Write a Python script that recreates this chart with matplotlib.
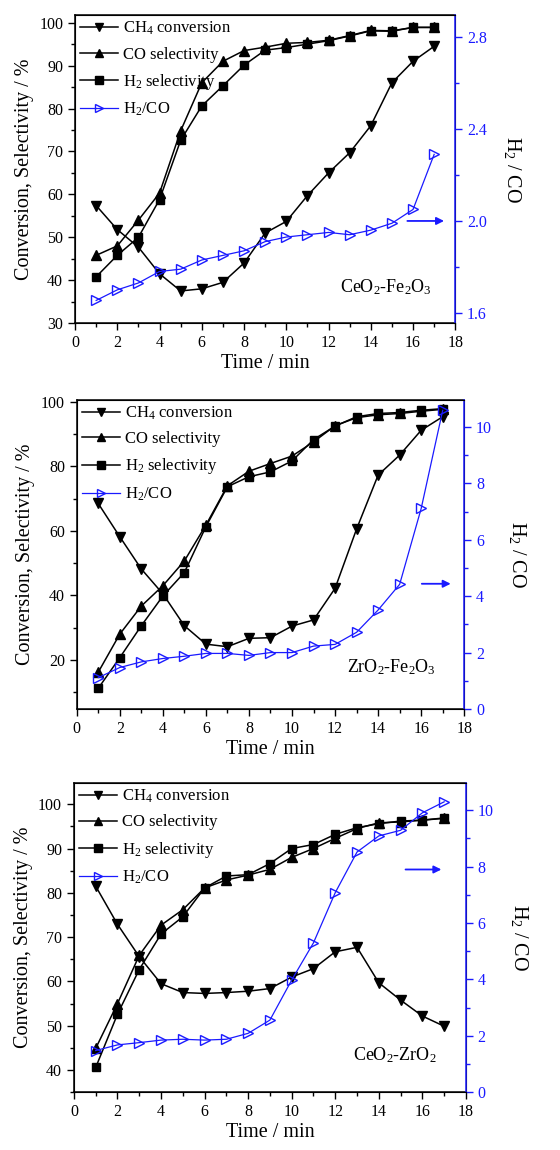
import matplotlib
matplotlib.use("Agg")
import matplotlib.pyplot as plt
from matplotlib.ticker import MultipleLocator

plt.rcParams['font.family'] = ['Liberation Serif', 'DejaVu Serif']
plt.rcParams['mathtext.fontset'] = 'custom'
plt.rcParams['mathtext.rm'] = 'Liberation Serif'
plt.rcParams['mathtext.it'] = 'Liberation Serif:italic'

time = list(range(1, 18))

# CeO2-Fe2O3
ch4_a = [57.4, 51.8, 47.7, 41.5, 37.5, 38.0, 39.5, 44.0, 51.0, 53.7, 59.7, 65.0, 69.7, 76.0, 86.0, 91.0, 94.5]
co_a = [45.8, 48.0, 54.0, 60.3, 74.8, 86.0, 91.0, 93.5, 94.3, 95.2, 95.4, 95.9, 97.0, 98.2, 98.1, 98.9, 98.9]
h2_a = [40.8, 45.8, 50.0, 58.8, 72.6, 80.6, 85.3, 90.1, 93.6, 94.2, 95.0, 95.8, 96.9, 98.1, 98.0, 98.9, 98.9]
ratio_a = [1.654, 1.70, 1.73, 1.78, 1.79, 1.83, 1.85, 1.87, 1.91, 1.93, 1.94, 1.95, 1.94, 1.96, 1.99, 2.05, 2.29]

# ZrO2-Fe2O3
ch4_b = [68.5, 58.2, 48.2, 40.5, 30.6, 24.9, 24.1, 26.7, 26.9, 30.5, 32.4, 42.2, 60.6, 77.3, 83.5, 91.2, 95.4]
co_b = [16.2, 28.0, 36.7, 43.0, 50.7, 61.8, 74.0, 78.5, 80.9, 83.2, 87.6, 92.6, 95.1, 96.0, 96.4, 97.1, 97.7]
h2_b = [11.2, 20.7, 30.6, 39.8, 47.1, 61.3, 73.7, 76.8, 78.3, 81.7, 88.3, 92.5, 95.4, 96.4, 96.7, 97.4, 97.9]
ratio_b = [1.11, 1.47, 1.67, 1.79, 1.87, 1.97, 1.97, 1.90, 2.00, 2.00, 2.23, 2.29, 2.72, 3.51, 4.42, 7.11, 10.59]

# CeO2-ZrO2
ch4_c = [81.5, 72.9, 65.6, 59.5, 57.5, 57.3, 57.5, 57.8, 58.4, 61.0, 62.9, 66.7, 67.7, 59.7, 55.8, 52.2, 49.9]
co_c = [44.9, 55.0, 65.9, 72.7, 76.2, 81.1, 82.9, 84.0, 85.3, 88.0, 90.0, 92.3, 94.5, 95.8, 96.0, 96.4, 96.8]
h2_c = [40.6, 52.6, 62.7, 70.7, 74.6, 81.1, 83.8, 84.1, 86.6, 90.0, 90.9, 93.2, 94.7, 95.6, 96.2, 96.4, 96.9]
ratio_c = [1.48, 1.68, 1.76, 1.85, 1.88, 1.85, 1.88, 2.09, 2.56, 3.98, 5.30, 7.08, 8.52, 9.09, 9.29, 9.91, 10.30]

panels = [
    dict(ch4=ch4_a, co=co_a, h2=h2_a, ratio=ratio_a, name='CeO$_2$-Fe$_2$O$_3$',
         pos=[0.134, 0.719, 0.679, 0.268], ylim=(30, 101.8), ymaj=10, ymin=5,
         rlim=(1.555, 2.897), rmaj=0.4, rmin=0.2, arrow=(15.6, 17.6, 2.0), txt=(14.7, 38.5)),
    dict(ch4=ch4_b, co=co_b, h2=h2_b, ratio=ratio_b, name='ZrO$_2$-Fe$_2$O$_3$',
         pos=[0.137, 0.3835, 0.692, 0.269], ylim=(4.8, 100.7), ymaj=20, ymin=10,
         rlim=(0, 10.97), rmaj=2, rmin=1, arrow=(15.9, 17.5, 4.44), txt=(14.6, 1.5)),
    dict(ch4=ch4_c, co=co_c, h2=h2_c, ratio=ratio_c, name='CeO$_2$-ZrO$_2$',
         pos=[0.132, 0.0502, 0.70, 0.269], ylim=(35, 104.8), ymaj=10, ymin=5,
         rlim=(0, 10.97), rmaj=2, rmin=1, arrow=(15.1, 17.0, 7.9), txt=(14.75, 1.3)),
]

fig = plt.figure(figsize=(5.6, 11.5), dpi=100)
blue = '#1a1aff'

for p in panels:
    ax = fig.add_axes(p['pos'])
    ax2 = ax.twinx()
    l1, = ax.plot(time, p['ch4'], 'k-', marker='v', ms=6.5, lw=1.1, label='CH$_4$ conversion')
    l2, = ax.plot(time, p['co'], 'k-', marker='^', ms=6.5, lw=1.1, label='CO selectivity')
    l3, = ax.plot(time, p['h2'], 'k-', marker='s', ms=5.8, lw=1.1, label='H$_2$ selectivity')
    l4, = ax2.plot(time, p['ratio'], '-', color=blue, marker='>', ms=6.5, mfc='none',
                   mec=blue, lw=0.9, label='H$_2$/CO')

    ax.set_xlim(0, 18)
    ax.set_ylim(*p['ylim'])
    ax2.set_ylim(*p['rlim'])
    ax.xaxis.set_major_locator(MultipleLocator(2))
    ax.xaxis.set_minor_locator(MultipleLocator(1))
    ax.yaxis.set_major_locator(MultipleLocator(p['ymaj']))
    ax.yaxis.set_minor_locator(MultipleLocator(p['ymin']))
    ax2.yaxis.set_major_locator(MultipleLocator(p['rmaj']))
    ax2.yaxis.set_minor_locator(MultipleLocator(p['rmin']))
    if p['rmaj'] == 0.4:
        ax2.yaxis.set_major_formatter(plt.FormatStrFormatter('%.1f'))

    ax.tick_params(which='both', direction='out', labelsize=11.5)
    ax.tick_params(which='major', length=5, width=1)
    ax.tick_params(which='minor', length=3, width=1)
    ax2.tick_params(which='both', direction='out', labelsize=11.5, colors=blue)
    ax2.tick_params(which='major', length=5, width=1)
    ax2.tick_params(which='minor', length=3, width=1)
    ax2.spines['right'].set_color(blue)
    for s in ['left', 'bottom', 'top']:
        ax.spines[s].set_linewidth(1.1)
    ax2.spines['right'].set_linewidth(1.1)

    ax.set_xlabel('Time / min', fontsize=14.5, labelpad=2)
    ax.set_ylabel('Conversion, Selectivity / %', fontsize=14.5, labelpad=4)
    ax2.set_ylabel('H$_2$ / CO', fontsize=14.5, rotation=270, labelpad=26)

    ax2.annotate('', xy=(p['arrow'][1], p['arrow'][2]), xytext=(p['arrow'][0], p['arrow'][2]),
                 arrowprops=dict(arrowstyle='-|>', color=blue, lw=1.3, mutation_scale=11))
    ax.text(p['txt'][0], p['txt'][1], p['name'], fontsize=13, ha='center', va='center',
            transform=ax.transData if p is panels[0] else ax2.transData)

    leg = ax2.legend([l1, l2, l3, l4], [l.get_label() for l in [l1, l2, l3, l4]],
                     loc='upper left', frameon=False, fontsize=12, handlelength=2.3,
                     labelspacing=0.55, handletextpad=0.3, borderaxespad=0.1,
                     borderpad=0.2, markerscale=0.9)

fig.savefig('out.png', dpi=100)
